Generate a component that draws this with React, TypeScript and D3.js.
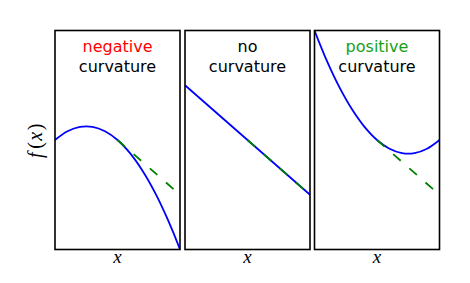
import React from "react";
import * as d3 from "d3";

const W = 470;
const H = 283;

const titlesTop = ["negative", "no", "positive"];
const titleColors = ["#ff0000", "#000000", "#17a017"];
const titleBottom = "curvature";

const xSamples = [0, 0.1, 0.2, 0.3, 0.4, 0.5, 0.6, 0.7, 0.8, 0.9, 1.0];
const negativeY = [0.5, 0.54, 0.56, 0.56, 0.54, 0.5, 0.44, 0.36, 0.26, 0.14, 0.0];
const noCurvX = [0, 1];
const noCurvY = [0.75, 0.25];
const positiveY = [1.0, 0.86, 0.74, 0.64, 0.56, 0.5, 0.46, 0.44, 0.44, 0.46, 0.5];
const tangentX = [0.5, 1.0];
const tangentY = [0.5, 0.25];

const panelLefts = [55, 185, 314.5];
const panelW = 125;
const top = 30.5;
const bottom = 249.5;

export default function App() {
  const y = d3.scaleLinear().domain([0, 1]).range([bottom, top]);
  const series = [
    { xs: xSamples, ys: negativeY },
    { xs: noCurvX, ys: noCurvY },
    { xs: xSamples, ys: positiveY },
  ];
  return (
    <svg width={W} height={H} style={{ position: "absolute", left: 0, top: 0 }}>
      <rect x={0} y={0} width={W} height={H} fill="#fff" />
      <defs>
        {panelLefts.map((l, i) => (
          <clipPath id={`clip${i}`} key={i}>
            <rect x={l} y={top} width={panelW} height={bottom - top} />
          </clipPath>
        ))}
      </defs>
      {panelLefts.map((l, i) => {
        const x = d3.scaleLinear().domain([0, 1]).range([l, l + panelW]);
        const s = series[i];
        const pts: [number, number][] = s.xs.map((v, k) => [v, s.ys[k]]);
        const line = d3
          .line<[number, number]>()
          .x((d) => x(d[0]))
          .y((d) => y(d[1]))
          .curve(s.xs.length > 2 ? d3.curveCatmullRom : d3.curveLinear);
        const tline = d3
          .line<[number, number]>()
          .x((d) => x(d[0]))
          .y((d) => y(d[1]));
        const tpts: [number, number][] = tangentX.map((v, k) => [v, tangentY[k]]);
        const cx = l + panelW / 2;
        return (
          <g key={i}>
            <g clipPath={`url(#clip${i})`}>
              <path d={line(pts) || ""} fill="none" stroke="#0000ff" strokeWidth={1.8} />
              <path
                d={tline(tpts) || ""}
                fill="none"
                stroke="#008000"
                strokeWidth={1.8}
                strokeDasharray="10 11.5"
              />
            </g>
            <rect
              x={l}
              y={top}
              width={panelW}
              height={bottom - top}
              fill="none"
              stroke="#000"
              strokeWidth={1.6}
            />
            <text
              x={cx}
              y={51.5}
              textAnchor="middle"
              fontFamily="DejaVu Sans"
              fontSize={16}
              fill={titleColors[i]}
            >
              {titlesTop[i]}
            </text>
            <text
              x={cx}
              y={71.5}
              textAnchor="middle"
              fontFamily="DejaVu Sans"
              fontSize={16}
              fill="#000"
            >
              {titleBottom}
            </text>
            <text
              x={cx}
              y={263}
              textAnchor="middle"
              fontFamily="Liberation Serif"
              fontStyle="italic"
              fontSize={19}
              fill="#000"
            >
              x
            </text>
          </g>
        );
      })}
      <text
        transform={`translate(42,${(top + bottom) / 2}) rotate(-90)`}
        textAnchor="middle"
        fontFamily="Liberation Serif"
        fontSize={20}
        fill="#000"
        letterSpacing={1.5}
      >
        <tspan fontStyle="italic">f</tspan>
        <tspan dx={2}>(</tspan>
        <tspan fontStyle="italic">x</tspan>
        <tspan>)</tspan>
      </text>
    </svg>
  );
}
